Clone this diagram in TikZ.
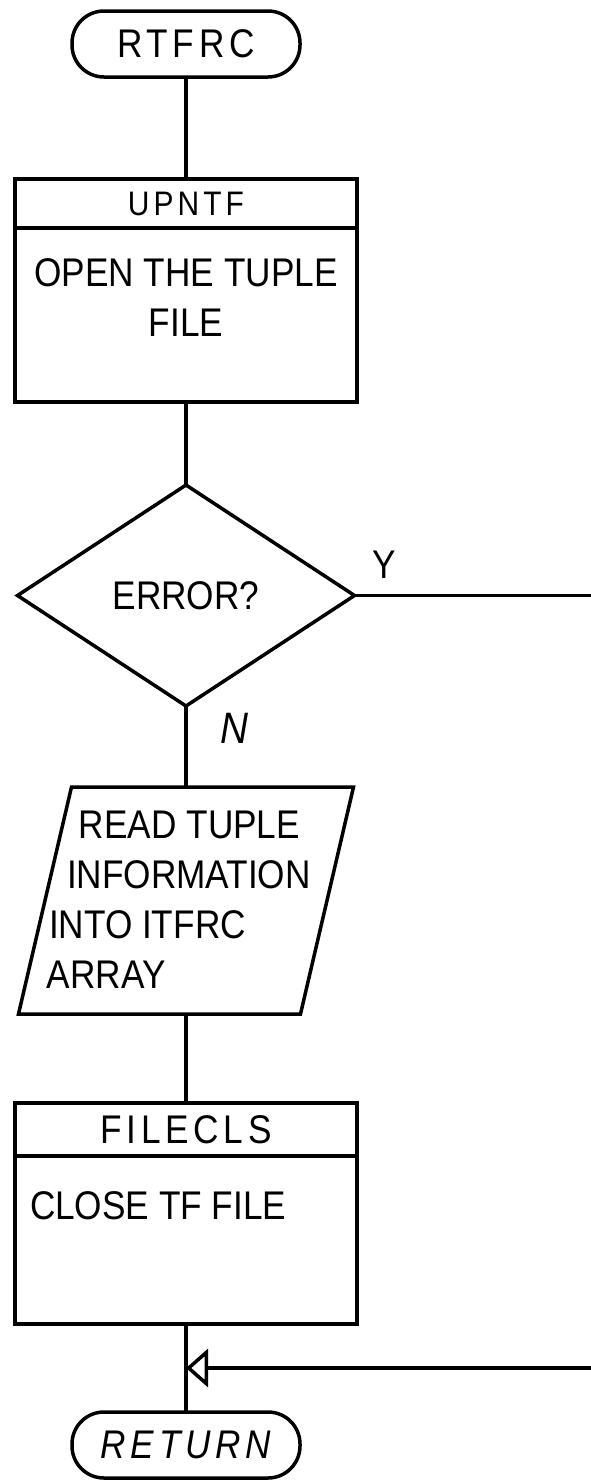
\documentclass[tikz,border=0pt]{standalone}
\usepackage{fontspec}
\setmainfont{Liberation Sans}[FakeStretch=0.88]
\newfontfamily\widefont{Liberation Sans}[FakeStretch=0.88, LetterSpace=12]
\usetikzlibrary{arrows.meta, positioning, shapes.geometric, calc}

\begin{document}
\begin{tikzpicture}[
  x=1pt, y=1pt,
  node distance=80pt,
  every node/.style={font=\fontsize{40}{50}\selectfont, inner sep=0pt, outer sep=0pt},
  terminal/.style={rectangle, rounded corners=32pt, draw, line width=3.5pt,
                   minimum width=228pt, minimum height=66pt,
                   font=\widefont\fontsize{40}{50}\selectfont},
  header/.style={rectangle, draw, line width=3.5pt, minimum width=342pt},
  procbody/.style={rectangle, draw, line width=3.5pt, minimum width=342pt},
  decision/.style={diamond, draw, line width=3.5pt, minimum width=337pt,
                   minimum height=221pt},
  iobox/.style={rectangle, minimum width=282pt, minimum height=227pt},
  txt/.style={align=left},
  flow/.style={line width=3.5pt}
]
  \useasboundingbox (0,0) rectangle (591,-1481);

  \node[terminal] (rtfrc) at (186,-44) {RTFRC};
  \node[header, minimum height=49pt, font=\widefont\fontsize{34}{40}\selectfont,
        below=102pt of rtfrc] (upntf) {UPNTF};
  \node[procbody, minimum height=174pt, below=0pt of upntf] (upntfb) {};
  \node[txt, align=center, below=31pt of upntfb.north] (upntft) {OPEN THE TUPLE\\FILE};
  \node[decision, below=83pt of upntfb] (dec) {ERROR?};
  \node[iobox, below=81pt of dec] (rdtup) {};
  \draw[flow] ([xshift=26.5pt]rdtup.north west) -- ([xshift=26.5pt]rdtup.north east)
    -- ([xshift=-26.5pt]rdtup.south east) -- ([xshift=-26.5pt]rdtup.south west) -- cycle;
  \node[txt, below right=24pt and -139pt of rdtup.north] (rdtupt)
    {\hspace*{32pt}READ TUPLE\\\hspace*{20pt}INFORMATION\\\hspace*{2pt}INTO ITFRC\\ARRAY};
  \node[header, minimum height=53pt, font=\widefont\fontsize{40}{50}\selectfont,
        below=89pt of rdtup] (cls) {FILECLS};
  \node[procbody, minimum height=168pt, below=0pt of cls] (clsb) {};
  \node[txt, below right=36pt and 15pt of clsb.north west] (clst) {CLOSE TF FILE};
  \node[terminal, below=88pt of clsb] (ret) {\itshape RETURN};

  \coordinate (join) at ($(clsb.south)!0.5!(ret.north)$);
  \coordinate[right=241pt of dec.east] (yturn);

  \draw[flow] (rtfrc) -- (upntf);
  \draw[flow] (upntfb) -- (dec);
  \draw[flow] (dec) -- node[pos=0.27, right=34pt, font=\itshape\fontsize{44}{50}\selectfont]{N} (rdtup);
  \draw[flow] (rdtup) -- (cls);
  \draw[flow] (clsb) -- (ret);
  \draw[flow, -{Triangle[open, length=22pt, width=38pt]}]
    (dec.east) node[above right=17pt and 18pt]{Y} -- (yturn) |- (join);
\end{tikzpicture}
\end{document}
